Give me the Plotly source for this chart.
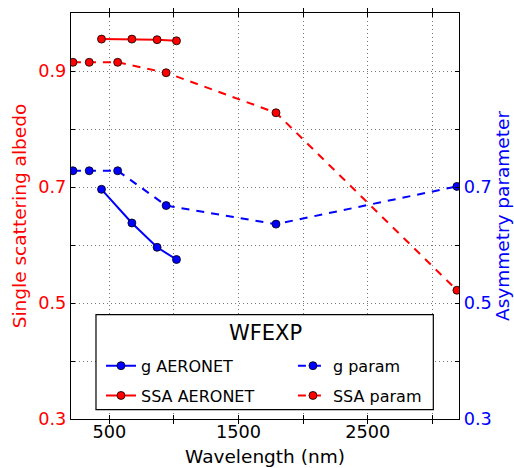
import plotly.graph_objects as go

# ---- data ----
wl_aeronet = [440, 675, 870, 1020]
ssa_aeronet = [0.955, 0.955, 0.954, 0.952]
g_aeronet = [0.696, 0.638, 0.596, 0.575]

wl_param = [219, 345, 565, 940, 1790, 3190]
ssa_param = [0.915, 0.915, 0.915, 0.897, 0.828, 0.522]
g_param = [0.728, 0.728, 0.728, 0.668, 0.636, 0.701]

x_tickvals = [500, 1000, 1500, 2000, 2500, 3000]
x_ticktext = ["500", "", "1500", "", "2500", ""]
y_tickvals = [0.3, 0.4, 0.5, 0.6, 0.7, 0.8, 0.9, 1.0]
y_ticktext = ["0.3", "", "0.5", "", "0.7", "", "0.9", ""]
y2_ticktext = ["0.3", "", "0.5", "", "0.7", "", "", ""]

RED = "#ff0000"
BLUE = "#0000ff"
FONT = "DejaVu Sans"

fig = go.Figure()

mk = dict(size=8, line=dict(color="black", width=0.8))

fig.add_trace(go.Scatter(
    x=wl_aeronet, y=g_aeronet, name="g AERONET", mode="lines+markers",
    line=dict(color=BLUE, width=2), marker=dict(color=BLUE, **mk),
    yaxis="y2", legend="legend", legendgroup="a"))
fig.add_trace(go.Scatter(
    x=wl_aeronet, y=ssa_aeronet, name="SSA AERONET", mode="lines+markers",
    line=dict(color=RED, width=2), marker=dict(color=RED, **mk),
    yaxis="y", legend="legend", legendgroup="b"))
fig.add_trace(go.Scatter(
    x=wl_param, y=g_param, name="g param", mode="lines+markers",
    line=dict(color=BLUE, width=2, dash="8px,7px"), marker=dict(color=BLUE, **mk),
    yaxis="y2", legend="legend2", legendgroup="c"))
fig.add_trace(go.Scatter(
    x=wl_param, y=ssa_param, name="SSA param", mode="lines+markers",
    line=dict(color=RED, width=2, dash="8px,7px"), marker=dict(color=RED, **mk),
    yaxis="y", legend="legend2", legendgroup="d"))

grid = dict(showgrid=True, gridcolor="#777777", griddash="1px,3px", gridwidth=1)

fig.update_layout(
    width=514, height=468,
    margin=dict(l=71, r=55, t=13, b=49),
    paper_bgcolor="white", plot_bgcolor="white",
    font=dict(family=FONT, color="black"),
    xaxis=dict(
        range=[204, 3206], tickmode="array", tickvals=x_tickvals, ticktext=x_ticktext,
        ticks="inside", ticklen=4, tickcolor="black", mirror="allticks",
        showline=True, linecolor="black", linewidth=1.2, zeroline=False,
        automargin=False, ticklabelstandoff=-3,
        tickfont=dict(size=17.7, color="black"),
        title=dict(text="Wavelength (nm)", font=dict(size=18.5, color="black"), standoff=8),
        **grid),
    yaxis=dict(
        range=[0.3, 1.0], tickmode="array", tickvals=y_tickvals, ticktext=y_ticktext,
        ticks="inside", ticklen=4, tickcolor="black", mirror=True,
        showline=True, linecolor="black", linewidth=1.2, zeroline=False,
        automargin=False,
        tickfont=dict(size=17.7, color=RED),
        title=dict(text="Single scattering albedo", font=dict(size=18.5, color=RED), standoff=6),
        **grid),
    yaxis2=dict(
        range=[0.3, 1.0], overlaying="y", side="right", anchor="x",
        tickmode="array", tickvals=y_tickvals, ticktext=y2_ticktext,
        ticks="inside", ticklen=4, tickcolor="black",
        showline=True, linecolor="black", linewidth=1.2, zeroline=False, showgrid=False,
        automargin=False,
        tickfont=dict(size=17.7, color=BLUE),
        title=dict(text="Asymmetry parameter", font=dict(size=18.5, color=BLUE), standoff=4)),
    legend=dict(
        x=0.0773, y=0.173, xanchor="left", yanchor="top", orientation="v",
        bgcolor="rgba(0,0,0,0)", borderwidth=0, tracegroupgap=6,
        font=dict(size=16, color="black")),
    legend2=dict(
        x=0.572, y=0.173, xanchor="left", yanchor="top", orientation="v",
        bgcolor="rgba(0,0,0,0)", borderwidth=0, tracegroupgap=6,
        font=dict(size=16, color="black")),
    shapes=[dict(
        type="rect", xref="paper", yref="paper",
        x0=0.0644, x1=0.9338, y0=0.0229, y1=0.2569,
        line=dict(color="black", width=1.2), fillcolor="white", layer="above")],
    annotations=[dict(
        text="WFEXP", xref="paper", yref="paper", x=0.5, y=0.213,
        xanchor="center", yanchor="middle", showarrow=False,
        font=dict(size=21, color="black"))],
)

fig.write_html("out.html", config={"displayModeBar": False},
               post_script="document.body.style.margin='0';document.body.style.padding='0';")
